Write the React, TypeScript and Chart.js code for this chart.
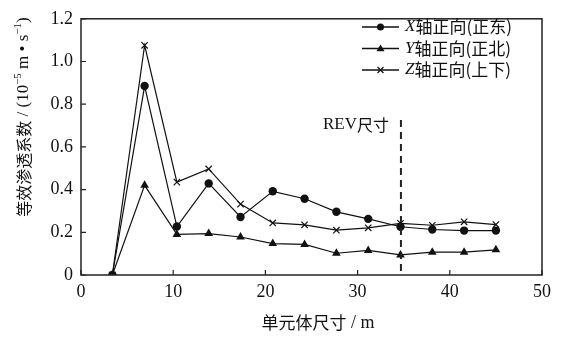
import React, { useEffect, useRef } from "react";
import { Chart, registerables } from "chart.js";
Chart.register(...registerables);

const sizes = [3.4, 6.9, 10.4, 13.85, 17.3, 20.8, 24.25, 27.7, 31.15, 34.65, 38.1, 41.55, 45.0];
const xEast = [0, 0.885, 0.227, 0.429, 0.272, 0.392, 0.357, 0.296, 0.263, 0.226, 0.213, 0.208, 0.208];
const yNorth = [0, 0.42, 0.19, 0.194, 0.178, 0.147, 0.143, 0.102, 0.115, 0.094, 0.107, 0.107, 0.118];
const zUpDown = [0, 1.076, 0.435, 0.497, 0.332, 0.244, 0.235, 0.21, 0.221, 0.242, 0.233, 0.249, 0.236];
const seriesNames = ["X", "Y", "Z"];
const seriesSuffix = ["轴正向(正东)", "轴正向(正北)", "轴正向(上下)"];
const markers = ["circle", "triangle", "crossRot"];
const revSize = 34.7;
const xTicks = [0, 10, 20, 30, 40, 50];
const yTicks = [0, 0.2, 0.4, 0.6, 0.8, 1.0, 1.2];

const SERIF = "'Liberation Serif', 'Times New Roman', serif";
const CJK = "'Noto Sans CJK SC', sans-serif";

type Seg = { t: string; f: string; sup?: boolean };

function segWidth(ctx: CanvasRenderingContext2D, segs: Seg[]) {
  let w = 0;
  for (const s of segs) {
    ctx.font = s.f;
    w += ctx.measureText(s.t).width;
  }
  return w;
}

function drawSegs(ctx: CanvasRenderingContext2D, segs: Seg[], x: number, y: number) {
  let cx = x;
  for (const s of segs) {
    ctx.font = s.f;
    ctx.fillText(s.t, cx, s.sup ? y - 6 : y);
    cx += ctx.measureText(s.t).width;
  }
}

function drawMarker(ctx: CanvasRenderingContext2D, kind: string, x: number, y: number, r: number) {
  ctx.save();
  ctx.fillStyle = "#111";
  ctx.strokeStyle = "#111";
  ctx.lineWidth = 1.2;
  if (kind === "circle") {
    ctx.beginPath();
    ctx.arc(x, y, r, 0, Math.PI * 2);
    ctx.fill();
  } else if (kind === "triangle") {
    ctx.beginPath();
    ctx.moveTo(x, y - r * 1.15);
    ctx.lineTo(x + r * 1.15, y + r * 0.8);
    ctx.lineTo(x - r * 1.15, y + r * 0.8);
    ctx.closePath();
    ctx.fill();
  } else {
    ctx.beginPath();
    ctx.moveTo(x - r, y - r);
    ctx.lineTo(x + r, y + r);
    ctx.moveTo(x + r, y - r);
    ctx.lineTo(x - r, y + r);
    ctx.stroke();
  }
  ctx.restore();
}

const decor = {
  id: "decor",
  afterDatasetsDraw(chart: any) {
    const ctx: CanvasRenderingContext2D = chart.ctx;
    const a = chart.chartArea;
    const xs = chart.scales.x;
    const ys = chart.scales.y;
    ctx.save();
    ctx.strokeStyle = "#222";
    ctx.lineWidth = 1.5;
    ctx.strokeRect(a.left, a.top, a.right - a.left, a.bottom - a.top);
    ctx.lineWidth = 1.2;
    ctx.beginPath();
    for (const t of xTicks) {
      const px = xs.getPixelForValue(t);
      ctx.moveTo(px, a.bottom);
      ctx.lineTo(px, a.bottom - 5);
    }
    for (const t of yTicks) {
      const py = ys.getPixelForValue(t);
      ctx.moveTo(a.left, py);
      ctx.lineTo(a.left + 5, py);
    }
    ctx.stroke();
    const rx = xs.getPixelForValue(revSize);
    ctx.setLineDash([7, 5]);
    ctx.lineWidth = 2;
    ctx.beginPath();
    ctx.moveTo(rx, 120);
    ctx.lineTo(rx, a.bottom);
    ctx.stroke();
    ctx.setLineDash([]);
    ctx.fillStyle = "#111";
    ctx.textBaseline = "middle";
    ctx.textAlign = "left";
    const revSegs: Seg[] = [
      { t: "REV", f: `17px ${SERIF}` },
      { t: "尺寸", f: `16px ${CJK}` },
    ];
    drawSegs(ctx, revSegs, rx - 12 - segWidth(ctx, revSegs), 125);
    const rowsY = [27, 48.5, 70];
    for (let i = 0; i < 3; i++) {
      const y = rowsY[i];
      ctx.strokeStyle = "#111";
      ctx.lineWidth = 1.3;
      ctx.beginPath();
      ctx.moveTo(362, y);
      ctx.lineTo(399, y);
      ctx.stroke();
      drawMarker(ctx, markers[i], 380.5, y, markers[i] === "crossRot" ? 3 : 3.5);
      drawSegs(
        ctx,
        [
          { t: seriesNames[i], f: `italic 17px ${SERIF}` },
          { t: seriesSuffix[i], f: `17px ${CJK}` },
        ],
        405,
        y
      );
    }
    const xt: Seg[] = [
      { t: "单元体尺寸", f: `17px ${CJK}` },
      { t: " / m", f: `18px ${SERIF}` },
    ];
    drawSegs(ctx, xt, 318 - segWidth(ctx, xt) / 2, 323);
    const sup = `11px ${SERIF}`;
    const yt: Seg[] = [
      { t: "等效渗透系数", f: `16px ${CJK}` },
      { t: " / (10", f: `17px ${SERIF}` },
      { t: "−5", f: sup, sup: true },
      { t: " m • s", f: `17px ${SERIF}` },
      { t: "−1", f: sup, sup: true },
      { t: ")", f: `17px ${SERIF}` },
    ];
    ctx.save();
    ctx.translate(24, 117);
    ctx.rotate(-Math.PI / 2);
    drawSegs(ctx, yt, -segWidth(ctx, yt) / 2, 0);
    ctx.restore();
    ctx.restore();
  },
};

export default function App() {
  const ref = useRef<HTMLCanvasElement>(null);
  useEffect(() => {
    document.body.style.margin = "0";
    const mk = (vals: number[]) => sizes.map((s, i) => ({ x: s, y: vals[i] }));
    const ds = (label: string, vals: number[], style: string, r: number) => ({
      label,
      data: mk(vals),
      borderColor: "#111",
      backgroundColor: "#111",
      borderWidth: 1.2,
      pointStyle: style,
      pointRadius: r,
      pointBorderWidth: style === "crossRot" ? 1.2 : 0,
      pointBorderColor: "#111",
      pointBackgroundColor: "#111",
      tension: 0,
    });
    const chart = new Chart(ref.current!, {
      type: "line",
      data: {
        datasets: [
          ds("X轴正向(正东)", xEast, "circle", 4.2),
          ds("Y轴正向(正北)", yNorth, "triangle", 5),
          ds("Z轴正向(上下)", zUpDown, "crossRot", 4.5),
        ],
      },
      options: {
        responsive: false,
        animation: false,
        layout: { padding: { left: 0, right: 19, top: 7, bottom: 0 } },
        plugins: { legend: { display: false }, tooltip: { enabled: false } },
        scales: {
          x: {
            type: "linear",
            min: 0,
            max: 50,
            afterFit: (s: any) => { s.height = 62; },
            afterBuildTicks: (s: any) => { s.ticks = xTicks.map((v) => ({ value: v })); },
            grid: { display: false, drawTicks: false },
            border: { display: false },
            ticks: { color: "#111", padding: 6, font: { family: "Liberation Serif", size: 18 } },
          },
          y: {
            min: 0,
            max: 1.2,
            afterFit: (s: any) => { s.width = 81; },
            afterBuildTicks: (s: any) => { s.ticks = yTicks.map((v) => ({ value: v })); },
            grid: { display: false, drawTicks: false },
            border: { display: false },
            ticks: {
              color: "#111",
              padding: 8,
              font: { family: "Liberation Serif", size: 18 },
              callback: (v: any) => (Number(v) === 0 ? "0" : Number(v).toFixed(1)),
            },
          },
        },
      },
      plugins: [decor],
    } as any);
    return () => chart.destroy();
  }, []);
  return (
    <div style={{ position: "absolute", left: 0, top: 0, width: 561, height: 337, background: "#fff" }}>
      <canvas ref={ref} width={561} height={337} style={{ display: "block" }} />
    </div>
  );
}
